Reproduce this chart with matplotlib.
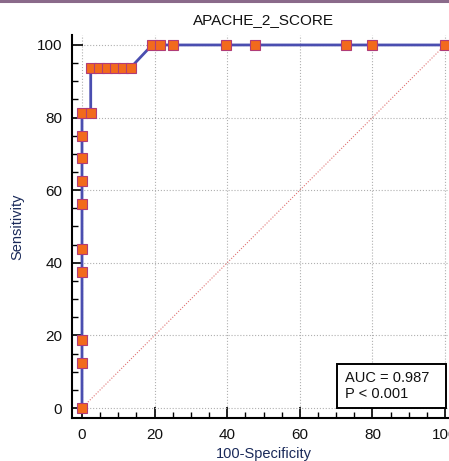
import matplotlib
matplotlib.use("Agg")
import matplotlib.pyplot as plt
from matplotlib.patches import Rectangle
from matplotlib.lines import Line2D
from matplotlib.ticker import MultipleLocator

# ROC points (100-Specificity, Sensitivity)
fpr = [0, 0, 0, 0, 0, 0, 0, 0, 0, 0, 2.4, 2.4, 4.6, 6.8, 9.0, 11.2, 13.4,
       19.3, 21.6, 25.0, 39.7, 47.7, 72.8, 79.8, 100]
tpr = [0, 12.5, 18.75, 37.5, 43.75, 56.25, 62.5, 68.75, 75, 81.25, 81.25,
       93.75, 93.75, 93.75, 93.75, 93.75, 93.75,
       100, 100, 100, 100, 100, 100, 100, 100]
diag = [0, 100]
title = "APACHE_2_SCORE"
auc_text = "AUC = 0.987\nP < 0.001"

plt.rcParams.update({
    "font.family": ["Liberation Sans", "DejaVu Sans"],
    "font.size": 11,
})

fig = plt.figure(figsize=(4.49, 4.61), dpi=100)
ax = fig.add_axes([0.1604, 0.0933, 0.853, 0.8308])

ax.plot(diag, diag, color="#e07070", lw=0.8, ls=(0, (1, 1.5)), zorder=2)
ax.plot(fpr, tpr, color="#4a4eb0", lw=2.0, zorder=3,
        marker="s", markersize=6.8, markerfacecolor="#f26a1c",
        markeredgecolor="#b03c78", markeredgewidth=0.8)

ax.set_xlim(-2.75, 102.75)
ax.set_ylim(-2.75, 102.75)
ax.xaxis.set_major_locator(MultipleLocator(20))
ax.yaxis.set_major_locator(MultipleLocator(20))
ax.xaxis.set_minor_locator(MultipleLocator(5))
ax.yaxis.set_minor_locator(MultipleLocator(5))
ax.tick_params(which="major", direction="in", length=8, width=1.3, pad=7,
               labelsize=11, colors="#111111")
ax.tick_params(which="minor", direction="in", length=4, width=1.0)
ax.grid(True, which="major", color="#b0b0b0", ls=":", lw=0.8)
ax.set_axisbelow(True)

for side in ["top", "right"]:
    ax.spines[side].set_visible(False)
for side in ["left", "bottom"]:
    ax.spines[side].set_linewidth(1.5)

ax.set_title(title, fontsize=11, pad=8, color="#111111")
ax.set_ylabel("Sensitivity", fontsize=10.5, color="#1a2a5a")
ax.set_xlabel("100-Specificity", fontsize=10.5, color="#1a2a5a")
ax.yaxis.set_label_coords(-0.125, 0.5)
ax.xaxis.set_label_coords(0.5, -0.075)

ax.add_patch(Rectangle((70.2, 0), 30.1, 12.1, facecolor="white",
                       edgecolor="black", lw=1.4, zorder=5))
ax.text(72.5, 6.0, auc_text, fontsize=10.5, va="center", ha="left",
        linespacing=1.15, zorder=6, color="#111111")

fig.add_artist(Line2D([0, 1], [0.997, 0.997], transform=fig.transFigure,
                      color="#8a6a8a", lw=2.2))

fig.savefig("out.png", dpi=100)
